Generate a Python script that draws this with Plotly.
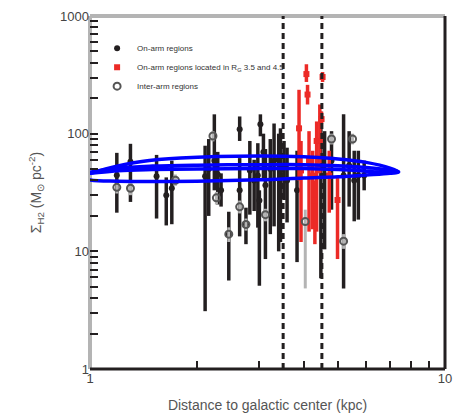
import plotly.graph_objects as go

# ---------------- data ----------------
# On-arm regions (black)
arm_x  = [1.19, 1.30, 1.54, 1.64, 1.70, 2.11, 2.24, 2.34, 2.64, 2.64, 2.75, 2.82, 3.02, 2.97, 3.00,
          3.12, 3.30, 3.44, 3.52, 3.59, 3.83, 4.47, 4.58, 4.79, 5.18, 5.37, 5.55, 5.70, 5.92,
          2.16, 2.29, 3.22, 3.40, 3.08, 2.46, 2.90]
arm_y  = [44.3, 57.8, 43.5, 30.0, 34.4, 43.5, 59.0, 33.0, 109, 33.0, 17.0, 48.7, 120, 44.0, 27.0,
          36.5, 59.0, 48.7, 53.6, 40.0, 33.0, 59.0, 44.0, 59.0, 44.0, 53.6, 40.0, 44.0, 44.0,
          50.0, 45.0, 50.0, 60.0, 70.0, 14.0, 40.0]
arm_hi = [68.7, 82.0, 66.0, 42.5, 59.0, 79.0, 146, 46.0, 140, 62.0, 23.5, 86.7, 146, 83.0, 33.0,
          74.0, 122, 111, 86.7, 76.0, 71.6, 154, 105, 105, 146, 105, 71.6, 71.6, 59.0,
          90.0, 70.0, 90.0, 100, 100, 21.7, 60.0]
arm_lo = [21.3, 26.3, 19.0, 16.6, 17.0, 3.1, 33.0, 24.0, 86.7, 13.4, 11.5, 20.5, 95.0, 15.9, 5.1,
          8.6, 16.3, 12.0, 27.3, 17.6, 8.1, 5.9, 10.4, 22.6, 4.84, 24.0, 18.0, 18.6, 33.0,
          20.0, 25.0, 14.0, 10.0, 40.0, 5.65, 22.0]

# On-arm regions located between the two radii (red)
red_x  = [4.07, 4.10, 4.52, 4.49, 3.88, 3.93, 4.14, 4.24, 4.35, 4.44, 4.72, 4.98, 4.30]
red_y  = [321, 215, 303, 133, 111, 48.7, 59.0, 44.0, 86.7, 86.7, 44.0, 27.3, 27.0]
red_hi = [389, 260, 334, 154, 236, 86.7, 105, 71.6, 127, 177, 71.6, 42.5, 40.0]
red_lo = [275, 177, 275, 122, 40.0, 12.0, 14.7, 15.4, 14.7, 46.0, 21.3, 8.6, 11.5]

# Inter-arm regions (open grey circles)
inter_x  = [1.19, 1.30, 1.74, 2.22, 2.27, 2.46, 2.64, 2.75, 3.12, 4.79, 5.49, 5.18, 4.04]
inter_y  = [35.0, 34.4, 40.2, 95.5, 28.5, 14.0, 23.9, 16.9, 20.5, 90.0, 90.0, 12.2, 17.9]
inter_hi = [40.0, 39.0, 45.0, 105, 32.0, 16.0, 27.0, 19.0, 23.0, 100, 100, 14.0, 22.6]
inter_lo = [31.0, 30.0, 36.0, 86.0, 25.0, 12.0, 21.0, 15.0, 18.0, 81.0, 81.0, 10.5, 4.84]

# Radii marked by dashed lines (kpc)
radii = [3.5, 4.5]

# Model loops (blue)
outer_x = [0.90, 1.0, 1.1, 1.4, 1.8, 3.0, 4.0, 5.0, 6.0, 7.0, 7.4,
           7.0, 6.0, 5.0, 4.0, 3.0, 2.0, 1.2, 1.0, 0.90]
outer_y = [44.6, 46.0, 50.0, 58.0, 62.0, 64.5, 63.5, 61.0, 57.0, 51.0, 47.3,
           46.0, 44.5, 43.0, 42.0, 40.5, 39.5, 39.5, 40.5, 44.6]
inner_x = [0.90, 1.0, 1.2, 1.5, 2.0, 3.0, 4.0, 5.0, 6.0, 7.0, 7.4,
           7.0, 6.0, 5.0, 4.0, 3.0, 2.0, 1.5, 1.2, 1.0, 0.90]
inner_y = [44.6, 47.0, 51.0, 53.0, 54.0, 54.5, 54.5, 53.5, 51.5, 49.0, 47.3,
           46.5, 48.0, 49.5, 50.5, 50.5, 50.0, 49.5, 48.5, 46.0, 44.6]

# Tick positions (every digit of each decade), labels only on the decades
x_tickvals = [1, 2, 3, 4, 5, 6, 7, 8, 9, 10]
x_ticktext = ["1", "", "", "", "", "", "", "", "", "10"]
y_tickvals = [d * 10 ** e for e in range(3) for d in range(1, 10)] + [1000]
y_ticktext = [str(v) if v in (1, 10, 100, 1000) else "" for v in y_tickvals]
x_range_decades = [0, 1]
y_range_decades = [0, 3]

# ---------------- figure ----------------
BLACK = "#231f20"
RED = "#ec2a26"
GREY = "#b4b4b4"
BLUE = "#0000ff"
FONT = "Liberation Sans, Arial, sans-serif"


def err(y, hi, lo):
    return dict(type="data", symmetric=False,
                array=[h - v for h, v in zip(hi, y)],
                arrayminus=[v - l for v, l in zip(y, lo)],
                thickness=3.5, width=0)


fig = go.Figure()

fig.add_trace(go.Scatter(
    x=arm_x, y=arm_y, mode="markers", name="On-arm regions",
    marker=dict(symbol="circle", size=6, color=BLACK),
    error_y={**err(arm_y, arm_hi, arm_lo), "color": BLACK}))

fig.add_trace(go.Scatter(
    x=red_x, y=red_y, mode="markers",
    name="On-arm regions located in R<sub>G</sub> 3.5 and 4.5",
    marker=dict(symbol="square", size=6, color=RED),
    error_y={**err(red_y, red_hi, red_lo), "color": RED}))

fig.add_trace(go.Scatter(
    x=inter_x, y=inter_y, mode="markers", name="Inter-arm regions",
    marker=dict(symbol="circle-open", size=7, color="#555555", line=dict(width=2)),
    error_y={**err(inter_y, inter_hi, inter_lo), "color": GREY, "thickness": 3}))

for r in radii:
    fig.add_trace(go.Scatter(
        x=[r, r], y=[10 ** y_range_decades[0], 10 ** y_range_decades[1]],
        mode="lines", showlegend=False, hoverinfo="skip",
        line=dict(color=BLACK, width=3, dash="6px,4px")))

fig.add_trace(go.Scatter(x=outer_x, y=outer_y, mode="lines", showlegend=False,
                         line=dict(color=BLUE, width=3.5, shape="spline")))
fig.add_trace(go.Scatter(x=inner_x, y=inner_y, mode="lines", showlegend=False,
                         line=dict(color=BLUE, width=3.5, shape="spline")))

axis_font = dict(family=FONT, size=13, color="#444444")

fig.update_xaxes(
    type="log", range=x_range_decades,
    tickmode="array", tickvals=x_tickvals, ticktext=x_ticktext,
    ticks="inside", ticklen=8, tickwidth=2, tickcolor=BLACK, layer="above traces",
    showgrid=False, zeroline=False, showline=False,
    tickfont=axis_font,
    title=dict(text="Distance to galactic center (kpc)",
               font=dict(family=FONT, size=14, color="#555555")))

fig.update_yaxes(
    type="log", range=y_range_decades,
    tickmode="array", tickvals=y_tickvals, ticktext=y_ticktext,
    ticks="inside", ticklen=8, tickwidth=2, tickcolor=BLACK, layer="above traces",
    showgrid=False, zeroline=False, showline=False,
    tickfont=axis_font,
    title=dict(text="Σ<sub>H2</sub> (M<sub>⊙</sub> pc<sup>-2</sup>)",
               font=dict(family=FONT, size=14, color="#555555")))

# frame: left/top grey, right/bottom black
fig.add_shape(type="line", xref="paper", yref="paper", x0=0, x1=0, y0=0, y1=1,
              line=dict(color=GREY, width=4), layer="below")
fig.add_shape(type="line", xref="paper", yref="paper", x0=0, x1=1, y0=1, y1=1,
              line=dict(color=GREY, width=4), layer="below")
fig.add_shape(type="line", xref="paper", yref="paper", x0=1, x1=1, y0=0, y1=1,
              line=dict(color=BLACK, width=3), layer="below")
fig.add_shape(type="line", xref="paper", yref="paper", x0=0, x1=1, y0=0, y1=0,
              line=dict(color=BLACK, width=3), layer="below")

fig.update_layout(
    width=461, height=420,
    margin=dict(l=90, r=9, t=12, b=48),
    paper_bgcolor="white", plot_bgcolor="white",
    showlegend=True,
    legend=dict(x=0.02, y=0.95, xanchor="left", yanchor="top",
                bgcolor="rgba(0,0,0,0)", borderwidth=0,
                font=dict(family=FONT, size=8, color="#333333"),
                tracegroupgap=0, itemwidth=30),
)

fig.write_html("out.html", config=dict(displayModeBar=False),
               post_script="document.body.style.margin='0';document.body.style.padding='0';")
